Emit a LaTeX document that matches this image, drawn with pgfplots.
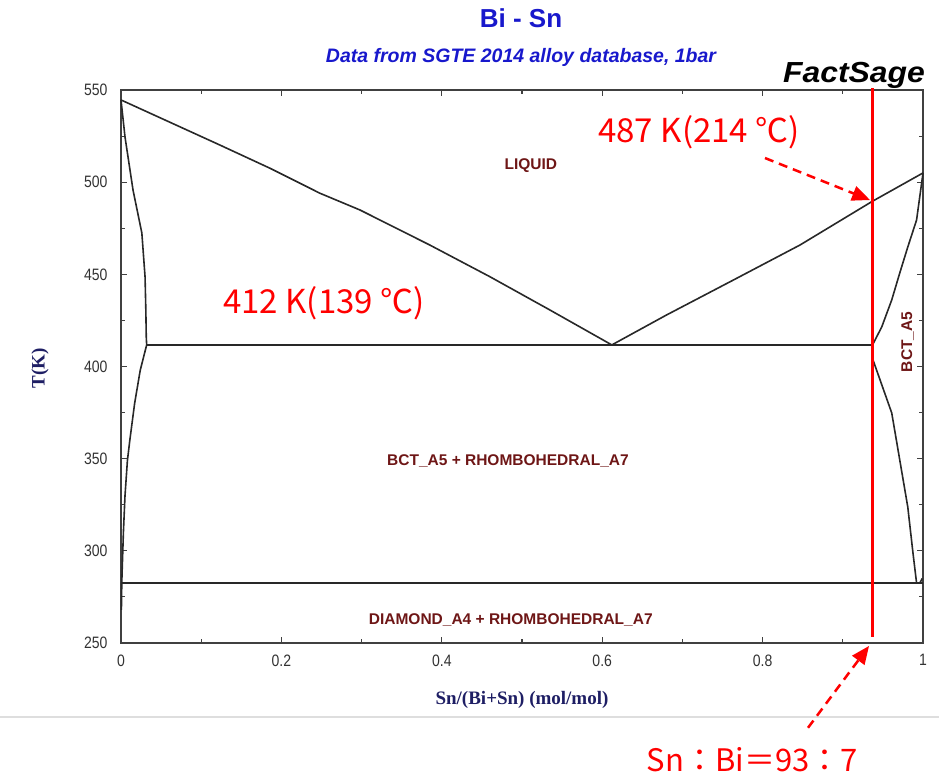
\documentclass[border=0pt]{standalone}
\usepackage{pgfplots}
\pgfplotsset{compat=1.18}
\usepackage{fontspec}
\setmainfont{Liberation Sans}
\newfontfamily\narrowsans{Liberation Sans}[FakeStretch=0.85]
\newfontfamily\labelserif{Liberation Serif}
\newfontfamily\jpfont{Noto Sans CJK JP}
\newfontfamily\widesans{Liberation Sans}[FakeStretch=1.1]
\usetikzlibrary{arrows.meta}
\definecolor{titleblue}{RGB}{24,24,204}
\definecolor{phasered}{RGB}{110,22,22}
\definecolor{navy}{RGB}{30,30,100}
\definecolor{framec}{RGB}{64,64,64}
\definecolor{curvec}{RGB}{40,40,40}
\definecolor{tickc}{RGB}{50,50,50}
\pgfplotsset{phase/.style={curvec, line width=1.6pt, mark=none, line join=round}}
\begin{document}
\begin{tikzpicture}[x=1pt,y=1pt]
\useasboundingbox (0,0) rectangle (939,778);
\draw[black!13, line width=1.5pt] (0,61) -- (939,61);
\node[font=\fontsize{26}{30}\selectfont\bfseries, text=titleblue] at (521,760) {Bi - Sn};
\node[font=\fontsize{19.5}{22}\selectfont\bfseries\itshape, text=titleblue] at (521,721) {Data from SGTE 2014 alloy database, 1bar};
\node[font=\widesans\fontsize{29}{32}\selectfont\bfseries\itshape] at (854,703) {FactSage};
\begin{axis}[at={(121pt,135pt)}, anchor=south west, scale only axis,
  width=802pt, height=553pt, xmin=0, xmax=1, ymin=250, ymax=550, clip=false,
  axis line style={framec, line width=1.4pt},
  tick style={framec, line width=1.1pt},
  major tick length=6pt, minor tick length=4pt, tick align=inside,
  xtick={0,0.2,0.4,0.6,0.8,1}, xticklabels={0,0.2,0.4,0.6,0.8,1},
  minor x tick num=1,
  ytick={250,300,350,400,450,500,550}, yticklabels={250,300,350,400,450,500,550},
  minor y tick num=1,
  ticklabel style={font=\narrowsans\fontsize{16.5}{18}\selectfont, text=tickc},
  xticklabel style={yshift=-8pt},
  yticklabel style={xshift=-10pt},
  xlabel={Sn/(Bi+Sn) (mol/mol)}, ylabel={T(K)},
  label style={font=\labelserif\fontsize{19}{22}\selectfont\bfseries, text=navy},
  xlabel style={at={(axis description cs:0.5,-0.1031)}, anchor=center},
  ylabel style={at={(axis description cs:-0.101,0.497)}, anchor=center},
]
% liquidus
\addplot[phase] coordinates {(0,544.6) (0.061,532.5) (0.123,520.2) (0.186,507.5) (0.248,494.0) (0.298,484.9) (0.385,465.9) (0.460,448.7) (0.535,430.6) (0.612,411.7) (0.680,427.9) (0.7635,446.9) (0.8466,465.9) (0.936,489.4) (1,505)};
% Bi-rich solidus and solvus
\addplot[phase] coordinates {(0,544.6) (0.005,524.5) (0.015,495.7) (0.026,472.4) (0.030,448.6) (0.031,430) (0.0315,416) (0.032,411.7) (0.024,398) (0.017,380) (0.011,360) (0.008,349) (0.005,330) (0.003,310) (0.0015,290) (0.001,283) (0.0005,268)};
% eutectic line
\addplot[phase] coordinates {(0.032,411.7) (0.937,411.7)};
% lower horizontal line
\addplot[phase] coordinates {(0,282.5) (1,282.5)};
% Sn-rich solidus
\addplot[phase] coordinates {(1,505) (0.992,479.5) (0.981,464.8) (0.971,450.7) (0.961,436.1) (0.9485,421.4) (0.937,411.7)};
% Sn-rich solvus
\addplot[phase] coordinates {(0.937,411.7) (0.9377,403.5) (0.961,374.8) (0.971,349.3) (0.981,323.8) (0.9875,298.8) (0.992,282.5)};
\addplot[phase] coordinates {(0.996,282.5) (0.999,285)};
% red composition line
\addplot[red, line width=3pt] coordinates {(0.937,551) (0.937,253.3)};
% phase labels
\begin{scope}[every node/.style={font=\fontsize{15.5}{18}\selectfont\bfseries, text=phasered}]
\node at (axis cs:0.511,508.8) {LIQUID};
\node at (axis cs:0.4825,348.7) {BCT\_A5 + RHOMBOHEDRAL\_A7};
\node at (axis cs:0.486,262.5) {DIAMOND\_A4 + RHOMBOHEDRAL\_A7};
\node[rotate=90] at (axis cs:0.981,413.3) {BCT\_A5};
\end{scope}
% annotations
\draw[red, line width=2.5pt, dash pattern=on 9pt off 6pt, -{Triangle[length=18pt,width=15pt]}] (axis cs:0.803,513.1) -- (axis cs:0.934,490.3);
\draw[red, line width=2.5pt, dash pattern=on 9pt off 6pt, -{Triangle[length=18pt,width=15pt]}] (axis cs:0.8566,204) -- (axis cs:0.9327,248.4);
\node[text=red, font=\jpfont\fontsize{33}{36}\selectfont] at (axis cs:0.7207,527.2) {487 K(214 ℃)};
\node[text=red, font=\jpfont\fontsize{33}{36}\selectfont] at (axis cs:0.253,434.4) {412 K(139 ℃)};
\node[text=red, font=\jpfont\fontsize{31}{34}\selectfont] at (axis cs:0.787,186.5) {Sn：Bi＝93：7};
\end{axis}
\end{tikzpicture}
\end{document}
